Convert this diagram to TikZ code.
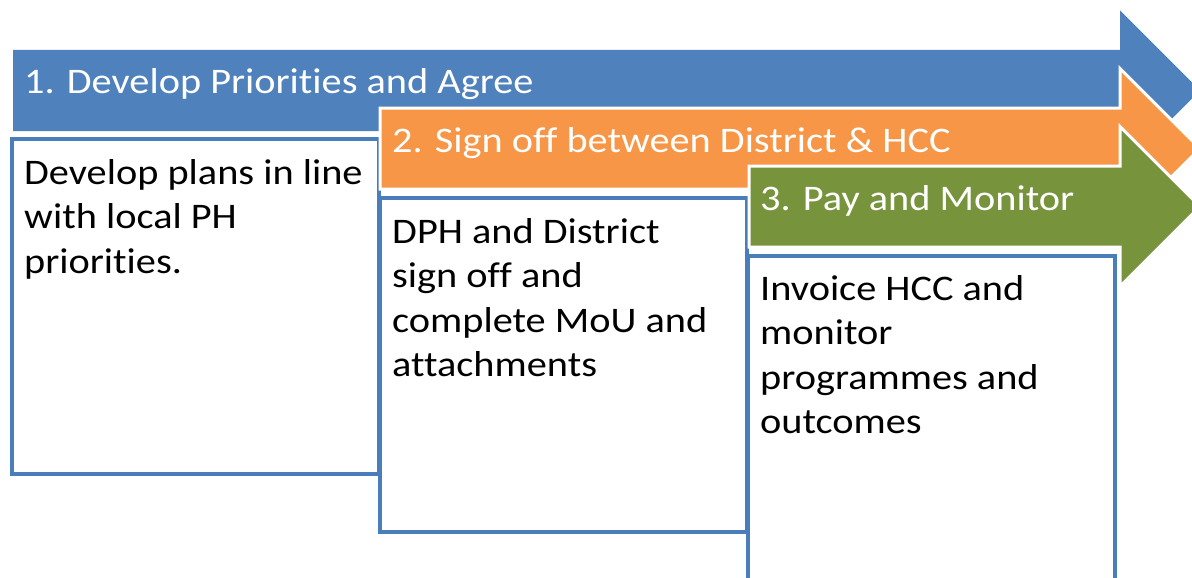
\documentclass[tikz,border=0pt]{standalone}
\usepackage{fontspec}
\setmainfont[Ligatures=CommonOff, FakeStretch=1.12]{Carlito}
\definecolor{stepblue}{HTML}{4F81BD}
\definecolor{steporange}{HTML}{F79646}
\definecolor{stepgreen}{HTML}{77933C}
\definecolor{boxline}{HTML}{4A7EBB}
\begin{document}
\begin{tikzpicture}[x=1pt,y=-1pt,
  banner/.style={draw=white, line width=3pt, line join=miter},
  title/.style={anchor=base west, inner sep=0pt, text=white,
    font=\fontsize{36}{44.5}\selectfont},
  panel/.style={draw=boxline, line width=3.5pt, fill=white, anchor=north west,
    inner sep=0pt, minimum width=367pt},
  body/.style={anchor=base west, inner sep=0pt,
    font=\fontsize{36}{44.5}\selectfont}]
\useasboundingbox (0,0) rectangle (1192,578);
\clip (0,0) rectangle (1192,578);

% step 1: banner arrow, panel and text
\fill[stepblue] (13,50) -- (1120,50) -- (1120,10.5) -- (1200,90.5)
  -- (1120,170.5) -- (1120,131) -- (13,131) -- cycle;
\node[title] (title1) at (24,93) {1. Develop Priorities and Agree};
\node[panel, minimum height=335pt] (panel1) at (10,137) {};
\node[body] (body1) at (24,184)
  {\parbox[t]{350pt}{\raggedright Develop plans in line\\with local PH\\priorities.}};

% step 2
\fill[steporange, banner] (380,108) -- (1120,108) -- (1120,68.5) -- (1200,148.5)
  -- (1120,228.5) -- (1120,189) -- (380,189) -- cycle;
\node[title] (title2) at (392,152) {2. Sign off between District \& HCC};
\node[panel, minimum height=334pt] (panel2) at (378,196) {};
\node[body] (body2) at (392,243)
  {\parbox[t]{350pt}{\raggedright DPH and District\\sign off and\\complete MoU and\\attachments}};

% step 3
\fill[stepgreen, banner] (749,166) -- (1120,166) -- (1120,126.5) -- (1200,206.5)
  -- (1120,286.5) -- (1120,247) -- (749,247) -- cycle;
\node[title] (title3) at (760,210) {3. Pay and Monitor};
\node[panel, minimum height=340pt] (panel3) at (746,254) {};
\node[body] (body3) at (760,300)
  {\parbox[t]{350pt}{\raggedright Invoice HCC and\\monitor\\programmes and\\outcomes}};
\end{tikzpicture}
\end{document}
